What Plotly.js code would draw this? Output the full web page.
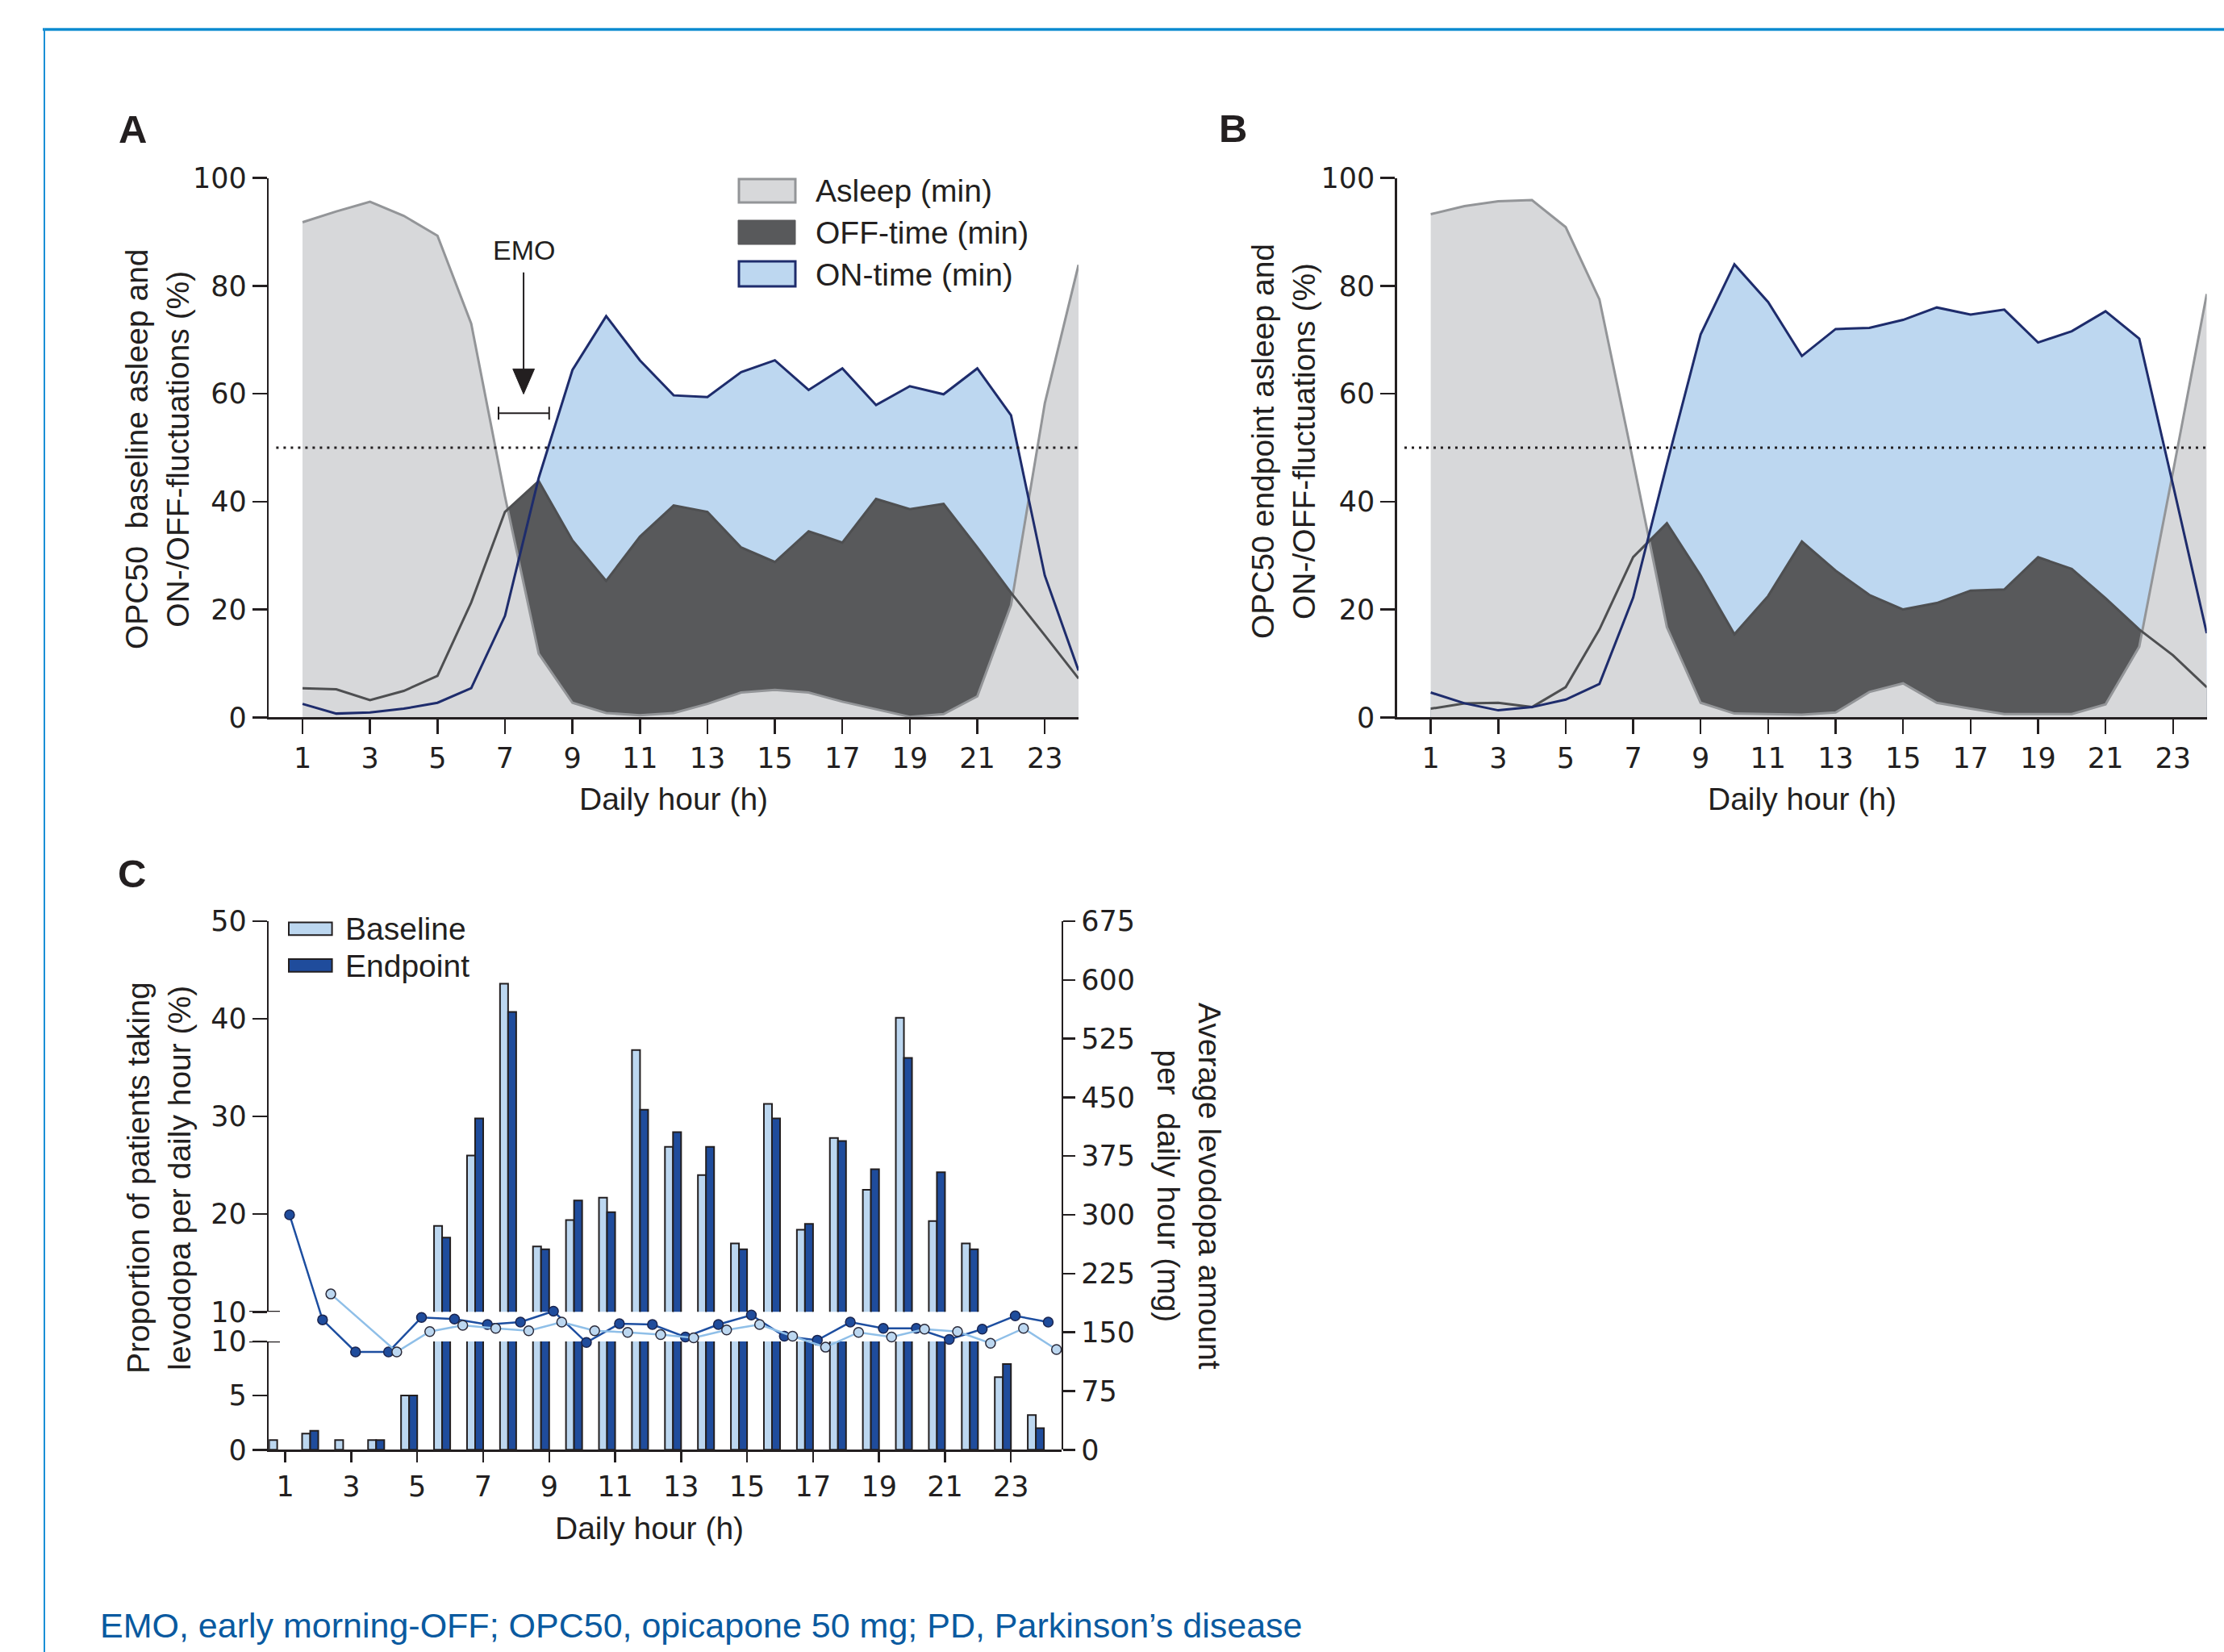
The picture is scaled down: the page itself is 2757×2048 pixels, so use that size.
<!DOCTYPE html>
<html><head><meta charset="utf-8">
<script src="https://cdn.plot.ly/plotly-3.0.1.min.js"></script>
<style>html,body{margin:0;padding:0;background:#fff}#chart{width:2757px;height:2048px}</style>
</head><body><div id="chart"></div>
<script>
// ---------- DATA ----------
const hours = [1,2,3,4,5,6,7,8,9,10,11,12,13,14,15,16,17,18,19,20,21,22,23,24];
const oddHourTicks = [1,3,5,7,9,11,13,15,17,19,21,23];
const pctTicks = [0,20,40,60,80,100];

// Panel A: baseline (% of patients per hour)
const asleepA = [91.8,93.8,95.6,93.0,89.3,73.0,41.0,11.8,2.7,0.8,0.4,0.8,2.5,4.6,5.1,4.6,2.9,1.5,0.1,0.6,3.9,20.8,58.2,83.9];
const offA    = [5.4,5.2,3.2,4.9,7.7,21.3,38.1,43.8,32.8,25.3,33.5,39.3,38.1,31.5,28.8,34.5,32.4,40.5,38.6,39.6,31.5,23.1,15.2,7.2];
const onA     = [2.5,0.7,0.9,1.6,2.7,5.4,18.8,44.4,64.4,74.4,66.2,59.7,59.4,64.0,66.2,60.7,64.7,57.9,61.4,59.9,64.7,56.0,26.3,8.7];

// Panel B: endpoint
const asleepB = [93.3,94.8,95.7,95.9,90.9,77.5,47.5,16.7,2.7,0.7,0.6,0.5,0.9,4.7,6.3,2.7,1.6,0.6,0.6,0.6,2.4,13.1,45.5,78.5];
const offB    = [1.6,2.6,2.7,1.9,5.6,16.3,29.7,36.0,26.3,15.4,22.5,32.6,27.2,22.7,20.0,21.2,23.5,23.7,29.7,27.5,22.1,16.3,11.5,5.6];
const onB     = [4.6,2.6,1.3,1.9,3.3,6.2,22.2,47.0,71.0,84.0,77.0,67.0,72.0,72.2,73.7,76.0,74.7,75.6,69.5,71.6,75.3,70.2,43.1,15.6];

// EMO window (panel A)
const emoCenter = [7.56];
const emoLevel = [56.4];
const emoHalfWidth = [0.75];

// Panel C: proportion of patients taking levodopa (%)
const baselinePct = [0.9,1.5,0.9,0.9,5.0,18.8,26.0,43.6,16.7,19.4,21.7,36.8,26.9,24.0,17.0,31.3,18.4,27.8,22.5,40.1,19.3,17.0,6.7,3.2];
const endpointPct = [null,1.75,null,0.9,5.0,17.6,29.8,40.7,16.4,21.4,20.2,30.7,28.4,26.9,16.4,29.8,19.0,27.5,24.6,36.0,24.3,16.4,7.9,2.0];
// Panel C: average levodopa amount (mg)
const baselineMg = [null,199,null,125,151,159,155,152,163,152,150,147,143,153,160,145,131,150,144,154,151,136,155,128];
const endpointMg = [300,166,125,125,169,167,160,163,177,137,161,160,144,160,172,145,140,163,155,155,141,154,171,163];
const upperPctTicks = [10,20,30,40,50];
const lowerPctTicks = [0,5,10];
const mgTicks = [0,75,150,225,300,375,450,525,600,675];

// ---------- STYLE ----------
const W = 2757, H = 2048;
const fx = p => p / W;
const fy = p => 1 - p / H;
const INK = '#231f20';
const C_ASLEEP_FILL = '#d7d8da', C_ASLEEP_LINE = '#939598';
const C_OFF = '#58595b', C_OFF_LINE = '#4e4f51';
const C_ON_FILL = '#bdd7f0', C_ON_LINE = '#1e2c6c';
const C_BASE = '#bcd7f0', C_END = '#1f4c9c';
const C_BASE_LINE = '#8fbfe8', C_END_LINE = '#1d4ea0';
const TEXT = 'Liberation Sans, Arial, sans-serif';
const TICKF = {family: 'DejaVu Sans, sans-serif', size: 35, color: INK};

function axis(extra) {
  return Object.assign({
    showgrid: false, zeroline: false, showline: true, linecolor: INK, linewidth: 2.5,
    ticks: 'outside', tickcolor: INK, tickwidth: 2.5, ticklen: 18,
    tickfont: TICKF, fixedrange: true
  }, extra);
}

function areaTraces(asleep, off, on, xa, ya) {
  const base = {x: hours, type: 'scatter', mode: 'lines', xaxis: xa, yaxis: ya, hoverinfo: 'skip', showlegend: false};
  return [
    Object.assign({}, base, {y: on, fill: 'tozeroy', fillcolor: C_ON_FILL, line: {width: 0, color: C_ON_FILL}}),
    Object.assign({}, base, {y: off, fill: 'tozeroy', fillcolor: C_OFF, line: {width: 0, color: C_OFF}}),
    Object.assign({}, base, {y: asleep, fill: 'tozeroy', fillcolor: C_ASLEEP_FILL, line: {width: 0, color: C_ASLEEP_FILL}}),
    Object.assign({}, base, {y: asleep, line: {width: 3, color: C_ASLEEP_LINE}}),
    Object.assign({}, base, {y: off, line: {width: 3, color: C_OFF_LINE}}),
    Object.assign({}, base, {y: on, line: {width: 3, color: C_ON_LINE}})
  ];
}

const data = [];
data.push(...areaTraces(asleepA, offA, onA, 'x', 'y'));
data.push({
  x: emoCenter, y: emoLevel, type: 'scatter', mode: 'markers', xaxis: 'x', yaxis: 'y',
  marker: {size: 1, color: 'rgba(0,0,0,0)'}, showlegend: false, hoverinfo: 'skip',
  error_x: {type: 'data', array: emoHalfWidth, color: INK, thickness: 2, width: 8}
});
data.push(...areaTraces(asleepB, offB, onB, 'x2', 'y2'));

// Panel C bars (drawn on both segments of the broken axis)
['y3', 'y4'].forEach(ya => {
  data.push({x: hours, y: baselinePct, type: 'bar', xaxis: 'x3', yaxis: ya, offset: -0.49, width: 0.245,
    marker: {color: C_BASE, line: {color: INK, width: 2}}, showlegend: false, hoverinfo: 'skip'});
  data.push({x: hours, y: endpointPct, type: 'bar', xaxis: 'x3', yaxis: ya, offset: -0.245, width: 0.245,
    marker: {color: C_END, line: {color: INK, width: 2}}, showlegend: false, hoverinfo: 'skip'});
});
// Panel C lines (right axis)
data.push({x: hours.map(h => h + 0.13), y: endpointMg, type: 'scatter', mode: 'lines+markers', xaxis: 'x3', yaxis: 'y5',
  line: {color: C_END_LINE, width: 2.5}, marker: {size: 12, color: C_END, line: {color: '#1a2550', width: 1.5}},
  showlegend: false, hoverinfo: 'skip', cliponaxis: false});
data.push({x: hours.map(h => h + 0.38), y: baselineMg, type: 'scatter', mode: 'lines+markers', xaxis: 'x3', yaxis: 'y5',
  connectgaps: true, line: {color: C_BASE_LINE, width: 2.5}, marker: {size: 12, color: C_BASE, line: {color: '#2a2a3a', width: 1.5}},
  showlegend: false, hoverinfo: 'skip', cliponaxis: false});

// ---------- LAYOUT ----------
const domA = [fx(333.2), fx(1337.0)];
const domB = [fx(1731.8), fx(2735.6)];
const domAB = [fy(889.3), fy(220.7)];
const domCx = [fx(333.2), fx(1315.8)];
const domCup = [fy(1626.3), fy(1142.0)];
const domClo = [fy(1797.3), fy(1662.9)];
const domCall = [fy(1797.3), fy(1142.0)];

const shapes = [];
function pshape(o) { return Object.assign({xref: 'paper', yref: 'paper', layer: 'above'}, o); }
// frame
shapes.push(pshape({type: 'line', x0: fx(53), x1: 1, y0: fy(36.5), y1: fy(36.5), line: {color: '#0d8bd0', width: 3.5}}));
shapes.push(pshape({type: 'line', x0: fx(55), x1: fx(55), y0: fy(35), y1: 0, line: {color: '#1a8fd6', width: 2}}));
// 50% reference lines
shapes.push({type: 'line', xref: 'x', yref: 'y', x0: 0.22, x1: 24, y0: 50, y1: 50, line: {color: INK, width: 3, dash: '3px,6px'}});
shapes.push({type: 'line', xref: 'x2', yref: 'y2', x0: 0.22, x1: 24, y0: 50, y1: 50, line: {color: INK, width: 3, dash: '3px,6px'}});
// EMO arrow
shapes.push({type: 'line', xref: 'x', yref: 'y', x0: 7.552, x1: 7.552, y0: 82.5, y1: 64.0, line: {color: INK, width: 2}});
shapes.push({type: 'path', xref: 'x', yref: 'y', path: 'M 7.234 64.6 L 7.874 64.6 L 7.552 59.95 Z', fillcolor: INK, line: {color: INK, width: 1}});
// Legend A
shapes.push(pshape({type: 'rect', x0: fx(916), x1: fx(986), y0: fy(222), y1: fy(251), fillcolor: C_ASLEEP_FILL, line: {color: C_ASLEEP_LINE, width: 3}}));
shapes.push(pshape({type: 'rect', x0: fx(915), x1: fx(986), y0: fy(273), y1: fy(303), fillcolor: C_OFF, line: {color: C_OFF, width: 1}}));
shapes.push(pshape({type: 'rect', x0: fx(916), x1: fx(986), y0: fy(324), y1: fy(355), fillcolor: C_ON_FILL, line: {color: C_ON_LINE, width: 3}}));
// Legend C
shapes.push(pshape({type: 'rect', x0: fx(358), x1: fx(411.6), y0: fy(1143.5), y1: fy(1159.2), fillcolor: C_BASE, line: {color: INK, width: 2}}));
shapes.push(pshape({type: 'rect', x0: fx(358), x1: fx(411.6), y0: fy(1189), y1: fy(1204.7), fillcolor: C_END, line: {color: INK, width: 2}}));
// Axis break marks (panel C)
shapes.push({type: 'line', xref: 'paper', yref: 'y3', x0: fx(309), x1: fx(347), y0: 10, y1: 10, line: {color: INK, width: 2.5}});
shapes.push({type: 'line', xref: 'paper', yref: 'y4', x0: fx(309), x1: fx(347), y0: 10, y1: 10, line: {color: INK, width: 2.5}});

function ann(text, x, y, o) {
  return Object.assign({text: text, x: fx(x), y: fy(y), xref: 'paper', yref: 'paper', showarrow: false,
    xanchor: 'center', yanchor: 'middle', font: {family: TEXT, size: 39, color: INK}}, o || {});
}
const NB = '\u00a0';
const annotations = [
  ann('<b>A</b>', 164, 160, {font: {family: TEXT, size: 49, color: INK}}),
  ann('<b>B</b>', 1528, 159, {font: {family: TEXT, size: 49, color: INK}}),
  ann('<b>C</b>', 163, 1083, {font: {family: TEXT, size: 49, color: INK}}),
  ann('OPC50' + NB + NB + 'baseline asleep and<br>ON-/OFF-fluctuations (%)', 195, 557, {textangle: -90}),
  ann('OPC50 endpoint asleep and<br>ON-/OFF-fluctuations (%)', 1591, 547, {textangle: -90}),
  ann('Daily hour (h)', 835, 990),
  ann('Daily hour (h)', 2234, 990),
  ann('Asleep (min)', 1009, 236.4, {xanchor: 'left'}),
  ann('OFF-time (min)', 1009, 288, {xanchor: 'left'}),
  ann('ON-time (min)', 1009, 340, {xanchor: 'left'}),
  {text: 'EMO', x: 7.56, y: 86.7, xref: 'x', yref: 'y', showarrow: false, xanchor: 'center', yanchor: 'middle',
    font: {family: TEXT, size: 34, color: INK}},
  ann('Proportion of patients taking<br>levodopa per daily hour (%)', 197, 1460, {textangle: -90}),
  ann('Average levodopa amount<br>per' + NB + NB + 'daily hour (mg)', 1474, 1470, {textangle: 90}),
  ann('Daily hour (h)', 804.5, 1894),
  ann('Baseline', 426, 1151.4, {xanchor: 'left'}),
  ann('Endpoint', 426, 1197, {xanchor: 'left'}),
  ann('EMO, early morning-OFF; OPC50, opicapone 50 mg; PD, Parkinson\u2019s disease', 122, 2015,
      {xanchor: 'left', font: {family: TEXT, size: 43, color: '#0a5aa0'}})
];

const layout = {
  width: W, height: H,
  margin: {l: 0, r: 0, t: 0, b: 0, pad: 0},
  paper_bgcolor: '#ffffff', plot_bgcolor: 'rgba(0,0,0,0)',
  showlegend: false, barmode: 'overlay',
  font: {family: TEXT, color: INK},
  xaxis: axis({domain: domA, range: [0, 24], anchor: 'y', tickvals: oddHourTicks}),
  yaxis: axis({domain: domAB, range: [0, 100], anchor: 'x', tickvals: pctTicks}),
  xaxis2: axis({domain: domB, range: [0, 24], anchor: 'y2', tickvals: oddHourTicks}),
  yaxis2: axis({domain: domAB, range: [0, 100], anchor: 'x2', tickvals: pctTicks}),
  xaxis3: axis({domain: domCx, range: [0.5, 24.53], anchor: 'y4', tickvals: oddHourTicks, ticklen: 13}),
  yaxis3: axis({domain: domCup, range: [10, 50], anchor: 'x3', tickvals: upperPctTicks}),
  yaxis4: axis({domain: domClo, range: [0, 10], anchor: 'x3', tickvals: lowerPctTicks}),
  yaxis5: axis({domain: domCall, range: [0, 675], anchor: 'x3', side: 'right', tickvals: mgTicks, ticklen: 15}),
  shapes: shapes,
  annotations: annotations
};

Plotly.newPlot('chart', data, layout, {staticPlot: true, displayModeBar: false});
</script>
</body></html>
